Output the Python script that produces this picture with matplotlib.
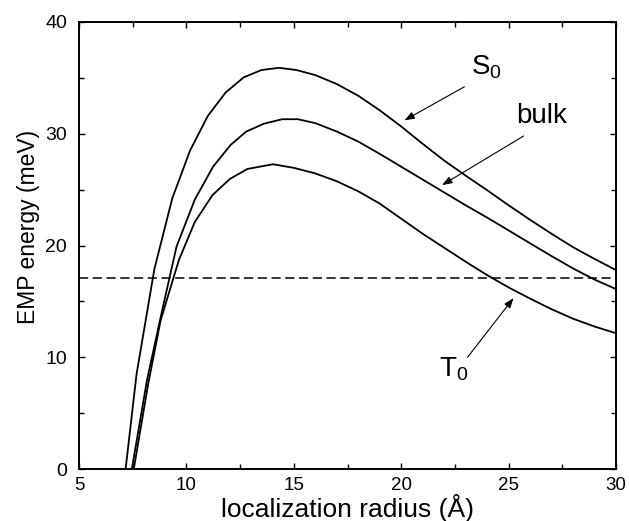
import matplotlib
matplotlib.use("Agg")
import matplotlib.pyplot as plt
from matplotlib.ticker import MultipleLocator

plt.rcParams['font.family'] = ['Liberation Sans', 'DejaVu Sans']
plt.rcParams['mathtext.default'] = 'regular'

# ---- data ----
s0_x = [7.17, 7.68, 8.51, 9.34, 10.17, 11.0, 11.83, 12.67, 13.49, 14.31, 15.13,
        16.0, 17.0, 18.0, 19.0, 20.0, 21.0, 22.0, 23.0, 24.0, 25.0, 26.0,
        27.0, 28.0, 29.0, 30.0]
s0_y = [0.0, 8.5, 17.9, 24.2, 28.5, 31.6, 33.7, 35.05, 35.7, 35.9, 35.7,
        35.25, 34.45, 33.4, 32.1, 30.65, 29.1, 27.6, 26.25, 24.95, 23.6, 22.3,
        21.05, 19.85, 18.8, 17.8]

bulk_x = [7.46, 8.17, 8.85, 9.54, 10.39, 11.24, 12.06, 12.79, 13.61, 14.46, 15.19,
          16.0, 17.0, 18.0, 19.0, 20.0, 21.0, 22.0, 23.0, 24.0, 25.0, 26.0,
          27.0, 28.0, 29.0, 30.0]
bulk_y = [0.0, 8.0, 14.0, 19.9, 24.1, 27.05, 29.0, 30.2, 30.9, 31.3, 31.3,
          30.95, 30.2, 29.3, 28.2, 27.05, 25.9, 24.75, 23.6, 22.5, 21.35, 20.2,
          19.05, 17.95, 16.95, 16.1]

t0_x = [7.55, 8.22, 8.8, 9.65, 10.39, 11.21, 12.02, 12.84, 14.03, 15.0,
        16.0, 17.0, 18.0, 19.0, 20.0, 21.0, 22.0, 23.0, 24.0, 25.0, 26.0,
        27.0, 28.0, 29.0, 30.0]
t0_y = [0.0, 7.6, 13.3, 18.7, 22.1, 24.5, 25.95, 26.85, 27.27, 26.95,
        26.45, 25.75, 24.85, 23.75, 22.4, 21.05, 19.8, 18.55, 17.35, 16.25, 15.25,
        14.3, 13.45, 12.75, 12.15]

threshold_y = [17.1, 17.1]
threshold_x = [5, 30]

labels = ["S$_0$", "bulk", "T$_0$"]
label_pos = [(23.25, 35.26), (25.34, 30.93), (21.78, 8.26)]
arrow_tail = [(22.94, 34.2), (25.70, 29.8), (23.09, 10.0)]
arrow_head = [(20.15, 31.2), (21.9, 25.4), (25.23, 15.3)]

x_ticks = [5, 10, 15, 20, 25, 30]
y_ticks = [0, 10, 20, 30, 40]

# ---- figure ----
fig = plt.figure(figsize=(6.29, 5.21), dpi=100)
ax = fig.add_axes([79/629, 52/521, (616-79)/629, (469-22)/521])

lw = 1.3
ax.plot(s0_x, s0_y, color='black', lw=lw)
ax.plot(bulk_x, bulk_y, color='black', lw=lw)
ax.plot(t0_x, t0_y, color='black', lw=lw)
ax.plot(threshold_x, threshold_y, color='black', lw=1.1, linestyle=(0, (6, 3)))

for lab, (lx, ly) in zip(labels, label_pos):
    ax.text(lx, ly, lab, fontsize=20, ha='left', va='baseline')
for (tx, ty), (hx, hy) in zip(arrow_tail, arrow_head):
    ax.annotate('', xy=(hx, hy), xytext=(tx, ty),
                arrowprops=dict(arrowstyle='-|>,head_length=0.6,head_width=0.22',
                                color='black', lw=0.8, shrinkA=0, shrinkB=0,
                                mutation_scale=10))

ax.set_xlim(5, 30)
ax.set_ylim(0, 40)
ax.set_xticks(x_ticks)
ax.set_yticks(y_ticks)
ax.xaxis.set_minor_locator(MultipleLocator(2.5))
ax.yaxis.set_minor_locator(MultipleLocator(5))
ax.tick_params(which='both', direction='in', top=True, right=True, width=1.0)
ax.tick_params(which='major', length=4.5)
ax.tick_params(which='minor', length=3.3)
ax.tick_params(axis='x', which='major', labelsize=13.5, pad=5.5)
ax.tick_params(axis='y', which='major', labelsize=14, pad=8.5)
for sp in ax.spines.values():
    sp.set_linewidth(1.4)

ax.set_xlabel("localization radius (Å)", fontsize=19)
ax.xaxis.set_label_coords(0.5, -0.055)
ax.set_ylabel("EMP energy (meV)", fontsize=16.5)
ax.yaxis.set_label_coords(-0.073, 0.542)

fig.savefig("out.png", dpi=100)
